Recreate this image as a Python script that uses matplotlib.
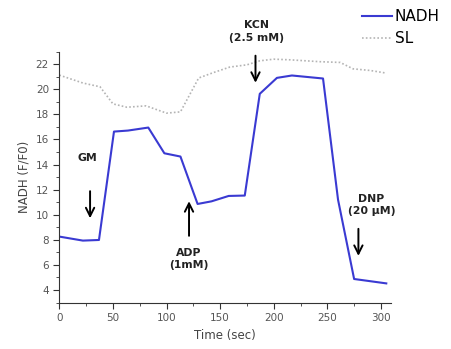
import matplotlib.pyplot as plt
from matplotlib.ticker import MultipleLocator

# NADH trace
t_nadh = [0, 22, 37, 51, 64, 83, 98, 113, 125, 129, 142, 158, 173, 187, 203, 217, 246, 260, 275, 305]
nadh = [8.26, 7.94, 7.99, 16.63, 16.71, 16.95, 14.9, 14.64, 11.8, 10.86, 11.07, 11.5, 11.53,
        19.64, 20.91, 21.1, 20.86, 11.2, 4.88, 4.53]

# SL trace
t_sl = [0, 22, 38, 50, 63, 81, 100, 113, 130, 144, 159, 175, 187, 200, 215, 243, 262, 274, 290, 305]
sl = [21.13, 20.5, 20.2, 18.84, 18.57, 18.68, 18.1, 18.2, 20.9, 21.34, 21.77, 21.95, 22.27,
      22.4, 22.35, 22.2, 22.14, 21.63, 21.5, 21.29]

fig = plt.figure(figsize=(4.51, 3.49), dpi=100)
ax = fig.add_axes([0.1315, 0.133, 0.7345, 0.719])

ax.plot(t_nadh, nadh, color='#3a3ad2', lw=1.5, label='NADH')
ax.plot(t_sl, sl, color='#b4b4b4', lw=1.2, ls=(0, (1, 1.3)), label='SL')

ax.set_xlim(0, 309)
ax.set_ylim(3, 23)
ax.xaxis.set_major_locator(MultipleLocator(50))
ax.xaxis.set_minor_locator(MultipleLocator(25))
ax.yaxis.set_minor_locator(MultipleLocator(1))
ax.set_yticks(range(4, 23, 2))
for s in ['top', 'right']:
    ax.spines[s].set_visible(False)
for s in ['left', 'bottom']:
    ax.spines[s].set_color('#333333')
ax.tick_params(which='major', length=4, labelsize=7.5, colors='#333333', labelcolor='#555555')
ax.tick_params(which='minor', length=2, colors='#333333')
ax.set_xlabel('Time (sec)', fontsize=8.5, color='#444444')
ax.set_ylabel('NADH (F/F0)', fontsize=8.5, color='#444444')

arr = dict(arrowstyle='->', color='black', lw=1.4, mutation_scale=15)
tk = dict(fontsize=7.8, fontweight='bold', color='#222222', ha='center', va='center')

ax.text(26, 14.5, 'GM', **tk)
ax.annotate('', xy=(28.7, 9.5), xytext=(28.7, 12.1), arrowprops=arr)

ax.annotate('', xy=(121, 11.3), xytext=(121, 8.1), arrowprops=arr)
ax.text(121, 6.45, 'ADP\n(1mM)', linespacing=1.3, **tk)

ax.text(184, 24.6, 'KCN\n(2.5 mM)', linespacing=1.3, clip_on=False, **tk)
ax.annotate('', xy=(183, 20.3), xytext=(183, 22.9), arrowprops=arr, annotation_clip=False)

ax.text(291, 10.8, 'DNP\n(20 µM)', linespacing=1.3, **tk)
ax.annotate('', xy=(279, 6.5), xytext=(279, 9.1), arrowprops=arr)

fig.legend(loc='upper right', bbox_to_anchor=(0.995, 1.0), frameon=False, fontsize=11,
           handlelength=1.9, handletextpad=0.2, labelspacing=0.45, borderaxespad=0.2)

fig.savefig('out.png', dpi=100)
